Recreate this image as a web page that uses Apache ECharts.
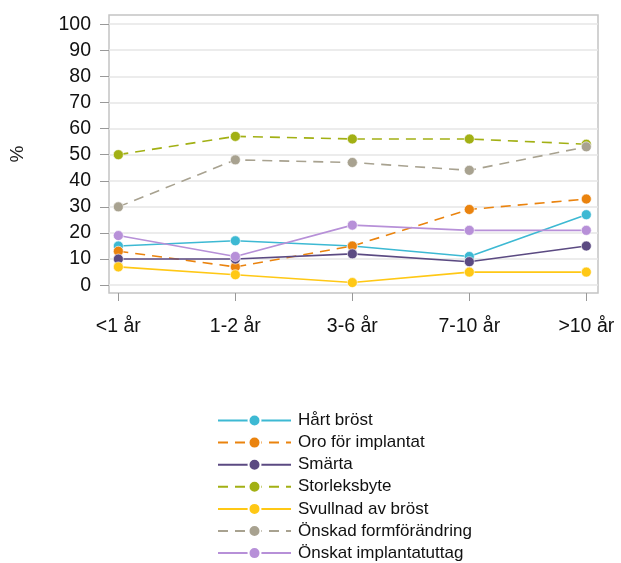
<!DOCTYPE html>
<html><head><meta charset="utf-8">
<script src="https://cdn.jsdelivr.net/npm/echarts@6/dist/echarts.min.js"></script>
<style>html,body{margin:0;padding:0;background:#fff}#c{width:621px;height:563px}</style>
</head><body><div id="c"></div>
<script>
const categories = ['<1 år', '1-2 år', '3-6 år', '7-10 år', '>10 år'];
const yTicks = [0, 10, 20, 30, 40, 50, 60, 70, 80, 90, 100];
const seriesNames = ['Hårt bröst', 'Oro för implantat', 'Smärta', 'Storleksbyte', 'Svullnad av bröst', 'Önskad formförändring', 'Önskat implantatuttag'];
const hartBrost = [15, 17, 15, 11, 27];
const oroImplantat = [13, 7, 15, 29, 33];
const smarta = [10, 10, 12, 9, 15];
const storleksbyte = [50, 57, 56, 56, 54];
const svullnad = [7, 4, 1, 5, 5];
const onskadForm = [30, 48, 47, 44, 53];
const onskatUttag = [19, 11, 23, 21, 21];

const values = [hartBrost, oroImplantat, smarta, storleksbyte, svullnad, onskadForm, onskatUttag];
const colors = ['#3db9d3', '#ea830e', '#5b4a82', '#a2b014', '#ffc815', '#a8a290', '#b790d8'];
const dashed = [false, true, false, true, false, true, false];

const series = seriesNames.map((n, i) => ({
  name: n,
  type: 'line',
  data: values[i].map((v, j) => [j, v]),
  symbol: 'circle',
  symbolSize: 10,
  itemStyle: { color: colors[i], borderColor: '#fff', borderWidth: 0.6 },
  lineStyle: { color: colors[i], width: 1.6, type: dashed[i] ? [10, 7] : 'solid' },
  emphasis: { disabled: true },
  animation: false
}));

const FONT = 'Liberation Sans, Arial, sans-serif';
const chart = echarts.init(document.getElementById('c'), null, { renderer: 'canvas' });
chart.setOption({
  animation: false,
  grid: { left: 108, right: 23, top: 15, bottom: 270, show: true, borderColor: '#c4c4c4', borderWidth: 1.5, backgroundColor: 'transparent' },
  xAxis: {
    type: 'value', min: -0.08, max: 4.1,
    axisLine: { show: false, onZero: false },
    axisTick: { show: true, length: 8, customValues: [0, 1, 2, 3, 4], lineStyle: { color: '#999' } },
    axisLabel: { customValues: [0, 1, 2, 3, 4], formatter: v => categories[Math.round(v)], color: '#111', fontSize: 19.5, fontFamily: FONT, margin: 24 },
    splitLine: { show: false }
  },
  yAxis: {
    type: 'value', min: -3, max: 103.5,
    name: '%', nameLocation: 'middle', nameGap: 82, nameRotate: 90,
    nameTextStyle: { color: '#222', fontSize: 19, fontFamily: FONT },
    axisLine: { show: false, onZero: false },
    axisTick: { show: true, length: 9, customValues: yTicks, lineStyle: { color: '#999' } },
    axisLabel: { customValues: yTicks, color: '#111', fontSize: 19.5, fontFamily: FONT, margin: 18 },
    splitLine: { show: true, lineStyle: { color: '#e6e6e6', width: 1.5 } }
  },
  legend: {
    orient: 'vertical', left: 217, top: 412, padding: 0,
    itemWidth: 73, itemHeight: 15, itemGap: 5.1,
    textStyle: { color: '#111', fontSize: 17, fontFamily: FONT, padding: [0, 0, 0, 2] },
    data: seriesNames
  },
  series: series
});
</script></body></html>
